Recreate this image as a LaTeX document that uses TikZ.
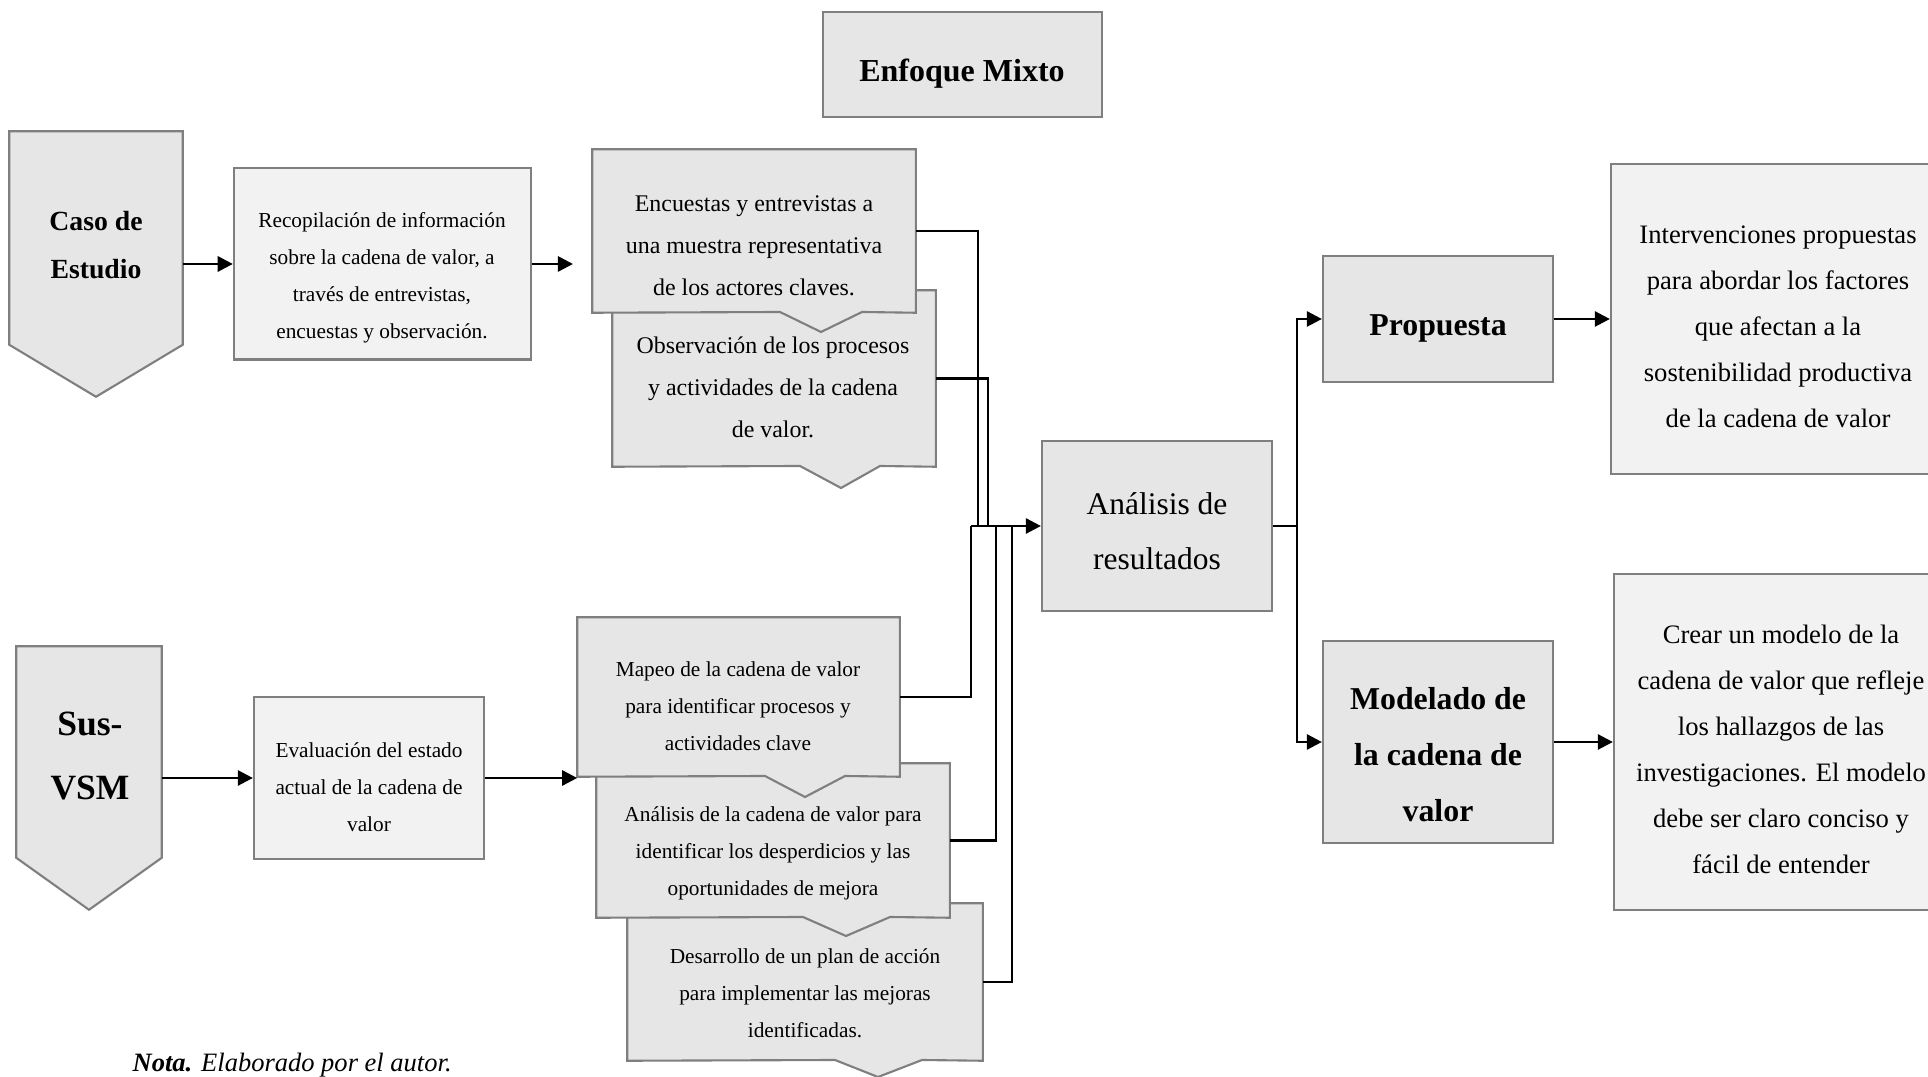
\documentclass[tikz,border=0pt]{standalone}
\usepackage{fontspec}
\setmainfont{Liberation Serif}
\usetikzlibrary{arrows.meta,calc}

\definecolor{boxfill}{HTML}{E6E6E6}
\definecolor{lightfill}{HTML}{F2F2F2}
\definecolor{boxline}{HTML}{7F7F7F}

\tikzset{
  greybox/.style={draw=boxline, fill=boxfill, line width=0.6pt, inner sep=0pt},
  lightbox/.style={greybox, fill=lightfill},
  hollow/.style={inner sep=0pt},
  outline/.style={draw=boxline, fill=boxfill, line width=0.6pt},
  conn/.style={line width=0.75pt, draw=black},
  arr/.style={conn, -{Triangle[length=4.3pt, width=4.3pt]}},
  plaintext/.style n args={2}{align=center, inner sep=0pt, font=\fontsize{#1}{#2}\selectfont},
  headtext/.style n args={2}{align=center, inner sep=0pt, font=\fontsize{#1}{#2}\selectfont\bfseries}
}

\begin{document}
\begin{tikzpicture}[x=0.01cm, y=-0.01cm]
  \path[use as bounding box, clip] (0,0) rectangle (1928,1077);

  % encabezado
  \node[greybox, minimum width=2.79cm, minimum height=1.05cm] (enf) at (962.5,64.5) {};
  \node[headtext={9.1pt}{11pt}] (enf-t) at (962,74) {Enfoque Mixto};

  % caso de estudio
  \node[hollow, minimum width=1.72cm, minimum height=2.64cm] (caso) at (96,264) {};
  \draw[outline] (caso.north west) -- (caso.north east) -- ($(caso.south east)+(0,-52)$)
    -- (caso.south) -- ($(caso.south west)+(0,-52)$) -- cycle;
  \node[headtext={7.88pt}{13.66pt}] (caso-t) at (96,245) {Caso de\\Estudio};

  \node[lightbox, minimum width=2.97cm, minimum height=1.91cm] (recop) at (382.5,264) {};
  \node[plaintext={6.06pt}{10.53pt}] (recop-t) at (382,278) {Recopilación de información\\sobre la cadena de valor, a\\través de entrevistas,\\encuestas y observación.};

  \node[hollow, minimum width=3.22cm, minimum height=1.75cm] (obs) at (774,378.5) {};
  \draw[outline] (obs.north west) -- (obs.north east) -- (obs.south east) -- (880,466)
    -- (841,488) -- (800,466) -- (obs.south west) -- cycle;
  \node[plaintext={6.8pt}{11.95pt}] (obs-t) at (773,387) {Observación de los procesos\\y actividades de la cadena\\de valor.};

  \node[hollow, minimum width=3.22cm, minimum height=1.62cm] (enc) at (754,231) {};
  \draw[outline] (enc.north west) -- (enc.north east) -- (enc.south east) -- (862,312)
    -- (821,332) -- (780,312) -- (enc.south west) -- cycle;
  \node[plaintext={6.8pt}{11.95pt}] (enc-t) at (754,246) {Encuestas y entrevistas a\\una muestra representativa\\de los actores claves.};

  % sus-vsm
  \node[hollow, minimum width=1.44cm, minimum height=2.62cm] (sus) at (89,778) {};
  \draw[outline] (sus.north west) -- (sus.north east) -- ($(sus.south east)+(0,-52)$)
    -- (sus.south) -- ($(sus.south west)+(0,-52)$) -- cycle;
  \node[headtext={10.1pt}{18.2pt}] (sus-t) at (90,756) {Sus-\\VSM};

  \node[lightbox, minimum width=2.30cm, minimum height=1.62cm] (eval) at (369,778) {};
  \node[plaintext={6.06pt}{10.53pt}] (eval-t) at (369,787) {Evaluación del estado\\actual de la cadena de\\valor};

  \node[hollow, minimum width=3.54cm, minimum height=1.56cm] (des) at (805,982) {};
  \draw[outline] (des.north west) -- (des.north east) -- (des.south east) -- (922,1060)
    -- (878,1077) -- (835,1060) -- (des.south west) -- cycle;
  \node[plaintext={6.06pt}{10.53pt}] (des-t) at (805,993) {Desarrollo de un plan de acción\\para implementar las mejoras\\identificadas.};

  \node[hollow, minimum width=3.52cm, minimum height=1.53cm] (cad) at (773,840.5) {};
  \draw[outline] (cad.north west) -- (cad.north east) -- (cad.south east) -- (890,917)
    -- (846,936) -- (803,917) -- (cad.south west) -- cycle;
  \node[plaintext={6.06pt}{10.53pt}] (cad-t) at (773,853) {Análisis de la cadena de valor para\\identificar los desperdicios y las\\oportunidades de mejora};

  \node[hollow, minimum width=3.21cm, minimum height=1.58cm] (map) at (738.5,697) {};
  \draw[outline] (map.north west) -- (map.north east) -- (map.south east) -- (845,776)
    -- (805,797) -- (765,776) -- (map.south west) -- cycle;
  \node[plaintext={6.06pt}{10.53pt}] (map-t) at (738,706) {Mapeo de la cadena de valor\\para identificar procesos y\\actividades clave};

  % analisis y salidas
  \node[greybox, minimum width=2.30cm, minimum height=1.70cm] (res) at (1157,526) {};
  \node[plaintext={8.96pt}{15.65pt}] (res-t) at (1157,531) {Análisis de\\resultados};

  \node[greybox, minimum width=2.30cm, minimum height=1.26cm] (prop) at (1438,319) {};
  \node[headtext={9.05pt}{15.93pt}] (prop-t) at (1438,328) {Propuesta};

  \node[greybox, minimum width=2.30cm, minimum height=2.01cm] (mod) at (1438,742) {};
  \node[headtext={9.05pt}{15.93pt}] (mod-t) at (1438,755) {Modelado de\\la cadena de\\valor};

  \node[lightbox, minimum width=3.35cm, minimum height=3.09cm] (interv) at (1778.5,319) {};
  \node[plaintext={7.57pt}{13.09pt}] (interv-t) at (1778,327) {Intervenciones propuestas\\para abordar los factores\\que afectan a la\\sostenibilidad productiva\\de la cadena de valor};

  \node[lightbox, minimum width=3.34cm, minimum height=3.36cm] (crear) at (1781,742) {};
  \node[plaintext={7.57pt}{13.09pt}] (crear-t) at (1781,749) {Crear un modelo de la\\cadena de valor que refleje\\los hallazgos de las\\investigaciones. El modelo\\debe ser claro conciso y\\fácil de entender};

  \node[plaintext={7.54pt}{9pt}, anchor=west] (nota) at (132,1065) {\textbf{\textit{Nota.}} \textit{Elaborado por el autor.}};

  % conectores
  \coordinate (r1) at (573,264);
  \coordinate (b0) at (971,526);
  \coordinate (b1) at (978,526);
  \coordinate (b2) at (988,526);
  \coordinate (b3) at (996,526);
  \coordinate (b4) at (1012,526);
  \coordinate (fork) at (1297,526);

  \draw[arr] (caso.east) -- (recop.west);
  \draw[arr] (recop.east) -- (r1);
  \draw[arr] (sus.east) -- (eval.west);
  \draw[arr] (eval.east) -- (eval.east -| map.west);

  \draw[conn] (enc.east) -| (b1);
  \draw[conn] (obs.east) -| (b2);
  \draw[conn] (map.east) -| (b0);
  \draw[conn] (cad.east) -| (b3);
  \draw[conn] (des.east) -| (b4);
  \draw[arr] (b0) -- (res.west);

  \draw[conn] (res.east) -- (fork);
  \draw[arr] (fork) |- (prop.west);
  \draw[arr] (fork) |- (mod.west);
  \draw[arr] (prop.east) -- (interv.west);
  \draw[arr] (mod.east) -- (crear.west);
\end{tikzpicture}
\end{document}
